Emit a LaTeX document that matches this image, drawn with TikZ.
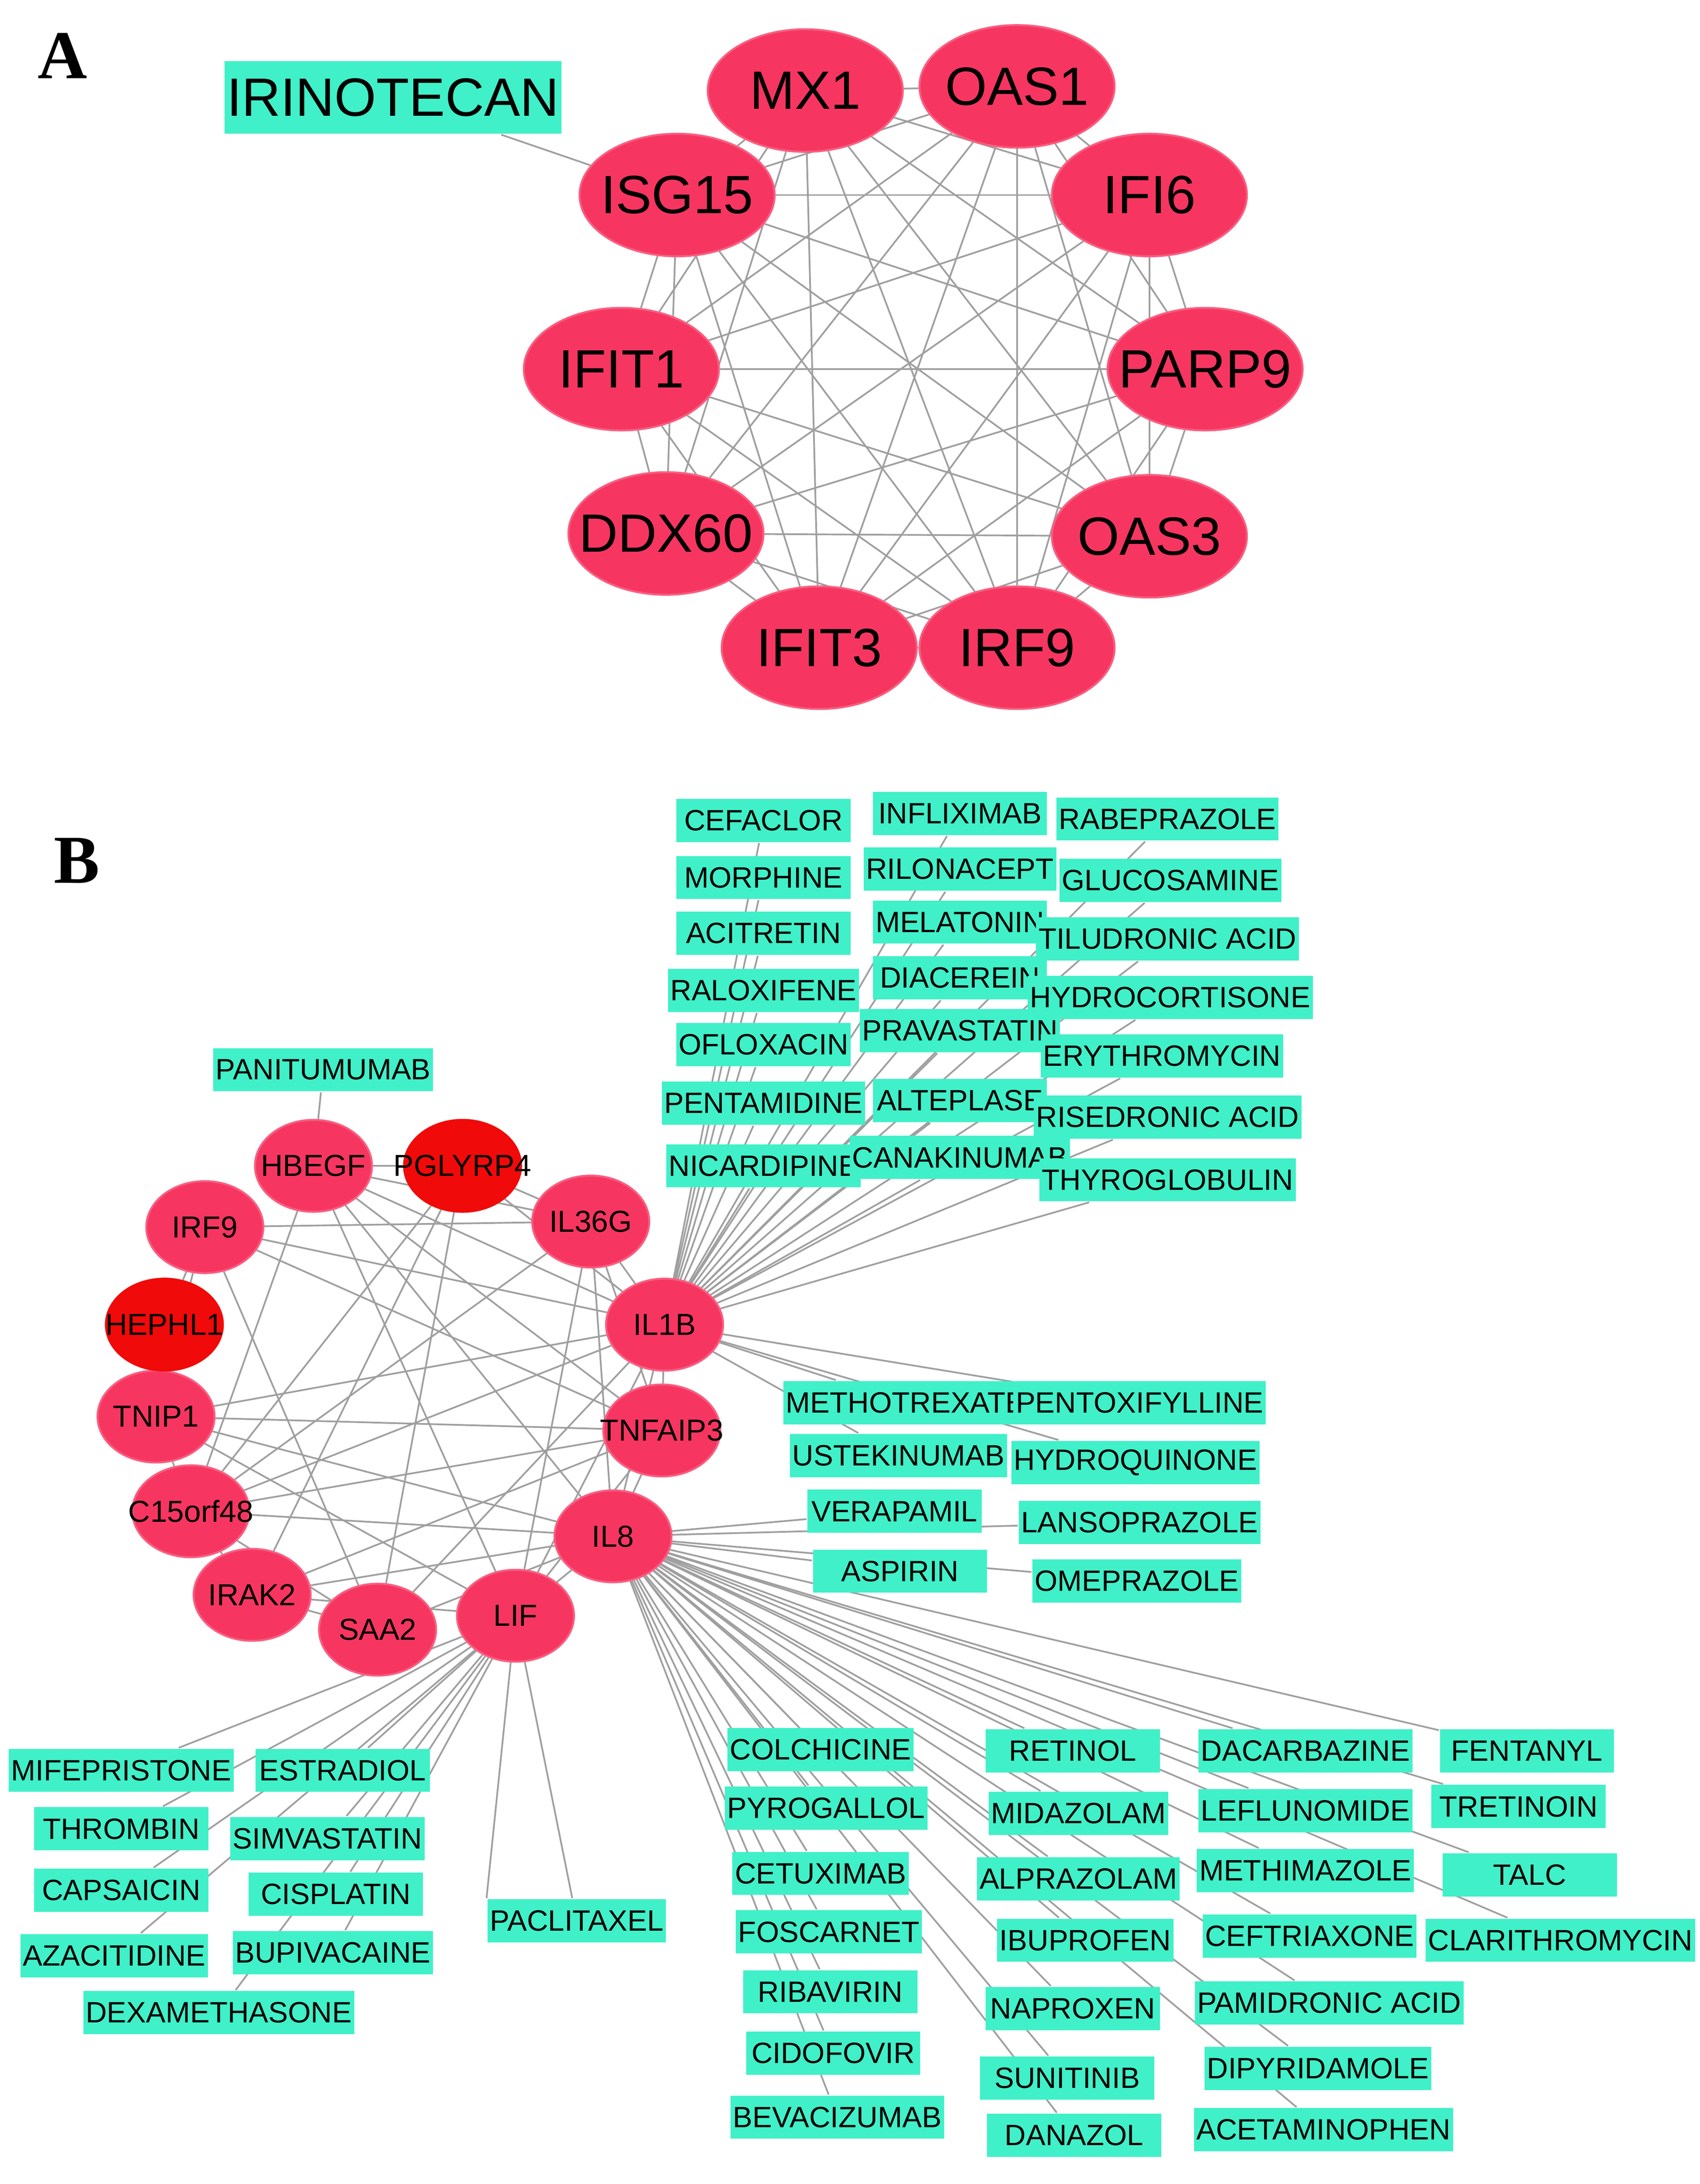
\documentclass[tikz,border=0pt]{standalone}
\usepackage{fontspec}
\setmainfont{Liberation Sans}
\usetikzlibrary{shapes.geometric,backgrounds}
\definecolor{genecol}{RGB}{246,54,96}
\definecolor{hubred}{RGB}{240,10,10}
\definecolor{drugcol}{RGB}{64,240,200}
\newfontfamily\serifpanel{Liberation Serif}
\tikzset{
  geneA/.style={ellipse, fill=genecol, draw=genecol!80!white, minimum width=1.4cm, minimum height=0.88cm, inner sep=0pt, inner xsep=-6pt, font=\fontsize{11}{11}\selectfont},
  geneB/.style={ellipse, fill=genecol, draw=genecol!80!white, minimum width=0.84cm, minimum height=0.66cm, inner sep=0pt, inner xsep=-6pt, font=\fontsize{6.2}{6.2}\selectfont},
  redB/.style={geneB, fill=hubred, draw=hubred},
  drug/.style={rectangle, fill=drugcol, minimum width=1.25cm, minimum height=0.31cm, inner sep=0.5pt, font=\fontsize{6}{6}\selectfont},
  link/.style={draw=gray!75, line width=0.35pt},
  panel/.style={font=\serifpanel\bfseries\fontsize{14}{14}\selectfont}
}
\begin{document}
\begin{tikzpicture}[x=0.1mm, y=-0.1mm]
\useasboundingbox (0,0) rectangle (1220,1568);
% panel A
\node[panel] (labA) at (45,40) {A};
\node[drug, minimum width=2.32cm, minimum height=0.52cm, font=\fontsize{11}{11}\selectfont] (IRINO) at (282,70) {IRINOTECAN};
\foreach \g/\x/\y in {MX1/578/65, OAS1/730/62, ISG15/486/140, IFI6/825/140, IFIT1/446/265,
  PARP9/865/265, DDX60/478/383, OAS3/825/385, IFIT3/588/465, IRF9/730/465}
  \node[geneA] (\g) at (\x,\y) {\g};
\begin{pgfonlayer}{background}
\foreach \a [count=\i] in {MX1,OAS1,ISG15,IFI6,IFIT1,PARP9,DDX60,OAS3,IFIT3,IRF9}{
  \foreach \b [count=\j] in {MX1,OAS1,ISG15,IFI6,IFIT1,PARP9,DDX60,OAS3,IFIT3,IRF9}{
    \ifnum\i<\j \draw[link] (\a) -- (\b);\fi
  }
}
\draw[link] (IRINO) -- (ISG15);
\end{pgfonlayer}
% panel B
\node[panel] (labB) at (55,618) {B};
\foreach \g/\x/\y in {HBEGF/225/837, IL36G/424/877, IL1B/477/951, TNIP1/112/1017,
  TNFAIP3/475/1027, C15orf48/137/1085, IL8/440/1103, IRAK2/181/1145, SAA2/271/1170, LIF/370/1160}
  \node[geneB] (\g) at (\x,\y) {\g};
\node[geneB] (bIRF9) at (147,881) {IRF9};
\node[redB] (PGLYRP4) at (332,837) {PGLYRP4};
\node[redB] (HEPHL1) at (118,951) {HEPHL1};
\node[drug] (dPANI) at (232,768) {PANITUMUMAB};
% drugs: label/x/y
\foreach \lbl/\x/\y [count=\i] in {
  CEFACLOR/548/589, MORPHINE/548/630, ACITRETIN/548/670, RALOXIFENE/548/711,
  OFLOXACIN/548/750, PENTAMIDINE/548/792, NICARDIPINE/548/837,
  INFLIXIMAB/689/584, RILONACEPT/689/624, MELATONIN/689/662, DIACEREIN/689/702,
  PRAVASTATIN/689/740, ALTEPLASE/689/790, CANAKINUMAB/689/831,
  RABEPRAZOLE/838/588, GLUCOSAMINE/840/632, TILUDRONIC ACID/838/674,
  HYDROCORTISONE/840/716, ERYTHROMYCIN/834/758, RISEDRONIC ACID/838/802,
  THYROGLOBULIN/838/847,
  METHOTREXATE/650/1007, PENTOXIFYLLINE/818/1007, USTEKINUMAB/645/1045,
  HYDROQUINONE/815/1050, VERAPAMIL/642/1085, LANSOPRAZOLE/818/1093,
  ASPIRIN/646/1128, OMEPRAZOLE/816/1135,
  MIFEPRISTONE/87/1271, ESTRADIOL/246/1271, THROMBIN/87/1313, SIMVASTATIN/235/1320,
  CAPSAICIN/87/1357, CISPLATIN/241/1360, AZACITIDINE/82/1404, BUPIVACAINE/239/1402,
  DEXAMETHASONE/157/1445, PACLITAXEL/414/1379,
  COLCHICINE/589/1256, PYROGALLOL/593/1298, CETUXIMAB/589/1345, FOSCARNET/595/1387,
  RIBAVIRIN/596/1430, CIDOFOVIR/598/1474, BEVACIZUMAB/601/1520,
  RETINOL/770/1257, MIDAZOLAM/774/1302, ALPRAZOLAM/774/1349, IBUPROFEN/779/1393,
  NAPROXEN/770/1442, SUNITINIB/766/1492, DANAZOL/771/1533,
  DACARBAZINE/937/1257, LEFLUNOMIDE/937/1300, METHIMAZOLE/937/1343,
  CEFTRIAXONE/940/1390, PAMIDRONIC ACID/954/1438, DIPYRIDAMOLE/946/1485,
  ACETAMINOPHEN/950/1529,
  FENTANYL/1096/1257, TRETINOIN/1090/1297, TALC/1098/1346, CLARITHROMYCIN/1120/1393}
  \node[drug] (d\i) at (\x,\y) {\lbl};
\begin{pgfonlayer}{background}
\foreach \g [count=\i] in {IL1B,IL1B,IL1B,IL1B,IL1B,IL1B,IL1B,IL1B,IL1B,IL1B,IL1B,IL1B,IL1B,IL1B,
  IL1B,IL1B,IL1B,IL1B,IL1B,IL1B,IL1B,IL1B,IL1B,IL1B,IL1B,IL8,IL8,IL8,IL8,
  LIF,LIF,LIF,LIF,LIF,LIF,LIF,LIF,LIF,LIF,
  IL8,IL8,IL8,IL8,IL8,IL8,IL8,IL8,IL8,IL8,IL8,IL8,IL8,IL8,IL8,IL8,IL8,IL8,IL8,IL8,IL8,IL8,IL8,IL8,IL8}
  \draw[link] (\g) -- (d\i);
\draw[link] (HBEGF) -- (dPANI);
\draw[link] (LIF) -- (d39.north west);
\foreach \a/\b in {bIRF9/IL36G, bIRF9/HEPHL1, bIRF9/TNIP1, bIRF9/IL1B, bIRF9/TNFAIP3, bIRF9/SAA2,
  HBEGF/IL1B, HBEGF/TNFAIP3, HBEGF/IL8, HBEGF/LIF, HBEGF/C15orf48, HBEGF/IL36G, HBEGF/PGLYRP4,
  PGLYRP4/IL36G, PGLYRP4/IL1B, PGLYRP4/C15orf48, PGLYRP4/IRAK2, PGLYRP4/SAA2,
  IL36G/IL1B, IL36G/TNFAIP3, IL36G/IL8, IL36G/C15orf48, IL36G/LIF, HEPHL1/TNIP1,
  TNIP1/IL1B, TNIP1/TNFAIP3, TNIP1/C15orf48, TNIP1/IL8, TNIP1/LIF,
  C15orf48/IL1B, C15orf48/IL8, C15orf48/IRAK2, C15orf48/SAA2, C15orf48/TNFAIP3,
  IRAK2/IL8, IRAK2/TNFAIP3, IRAK2/SAA2, IRAK2/LIF, SAA2/IL8, SAA2/IL1B,
  LIF/IL8, LIF/TNFAIP3, LIF/IL1B, IL1B/TNFAIP3, IL1B/IL8, TNFAIP3/IL8}
  \draw[link] (\a) -- (\b);
\end{pgfonlayer}
\end{tikzpicture}
\end{document}
